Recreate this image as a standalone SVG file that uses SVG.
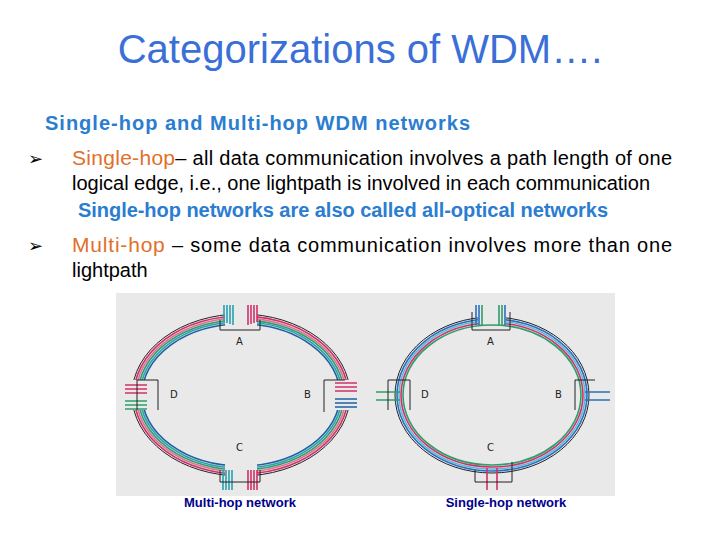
<svg xmlns="http://www.w3.org/2000/svg" width="720" height="540" viewBox="0 0 720 540">
<style>
.t{font-family:"Liberation Sans",Arial,sans-serif}
.b{font-size:20px;fill:#000}
.o{font-size:21px;fill:#e0702a}
.h{font-size:20px;fill:#2a7dd0;font-weight:bold}
.n{font-family:"DejaVu Sans",sans-serif;font-size:10px;fill:#222}
.r{fill:none;stroke-width:1.6}
.k{fill:none;stroke:#222;stroke-width:1}
.cap{font-size:13px;fill:#00008b;font-weight:bold}
</style>
<rect width="720" height="540" fill="#fff"/>
<text class="t" x="360" y="63" text-anchor="middle" font-size="40" fill="#3a6fd8">Categorizations of WDM….</text>
<text class="t h" x="45" y="130" textLength="425">Single-hop and Multi-hop WDM networks</text>
<text x="28" y="165" font-family="DejaVu Sans,sans-serif" font-size="18">➢</text>
<text class="t" x="72" y="165" textLength="600"><tspan class="o">Single-hop</tspan><tspan class="b">– all data communication involves a path length of one</tspan></text>
<text class="t b" x="72" y="190" textLength="578">logical edge, i.e., one lightpath is involved in each communication</text>
<text class="t h" x="78" y="217" textLength="530">Single-hop networks are also called all-optical networks</text>
<text x="28" y="252" font-family="DejaVu Sans,sans-serif" font-size="18">➢</text>
<text class="t" x="72" y="252" textLength="600"><tspan class="o">Multi-hop</tspan><tspan class="b"> – some data communication involves more than one</tspan></text>
<text class="t b" x="72" y="277">lightpath</text>
<rect x="116" y="293" width="499" height="203" fill="#e9e9e9"/>
<g id="multihop">
<ellipse class="k" cx="241" cy="395" rx="109" ry="81"/>
<ellipse class="r" stroke="#d0306a" cx="241" cy="395" rx="107" ry="79"/>
<ellipse class="r" stroke="#e07090" cx="241" cy="395" rx="105" ry="77"/>
<ellipse class="r" stroke="#2e9e6a" cx="241" cy="395" rx="103" ry="75"/>
<ellipse class="r" stroke="#2aa0b0" cx="241" cy="395" rx="101" ry="73"/>
<ellipse class="r" stroke="#2060a0" cx="241" cy="395" rx="99" ry="71"/>
<rect x="225" y="300" width="32" height="30" fill="#e9e9e9"/>
<rect x="225" y="458" width="32" height="34" fill="#e9e9e9"/>
<rect x="124" y="380" width="22" height="30" fill="#e9e9e9"/>
<rect x="336" y="380" width="22" height="30" fill="#e9e9e9"/>
<g class="r"><path d="M224 305V322M227 305V323M230 305V324M233 305V325" stroke="#2aa0b0"/><path d="M248 305V325M251 305V324M254 305V323M257 305V322" stroke="#d0306a"/>
<path d="M223 490V470M226 490V470M229 490V470M232 490V470" stroke="#2aa0b0"/><path d="M248 490V470M251 490V470M254 490V470M257 490V470" stroke="#d0306a"/>
<path d="M125 385H147M125 389H147M125 393H147" stroke="#d0306a"/><path d="M125 401H147M125 405H147M125 409H147" stroke="#2e9e6a"/>
<path d="M335 383H357M335 387H357M335 391H357" stroke="#d0306a"/><path d="M335 399H357M335 403H357M335 407H357" stroke="#2060a0"/></g>
<path class="k" d="M220 320V330H260V320M220 470V482H260V470M137 380H158V410M137 380V410M324 380H345M324 380V412"/>
<text class="n" x="236" y="345">A</text><text class="n" x="170" y="398">D</text><text class="n" x="304" y="398">B</text><text class="n" x="236" y="451">C</text>
</g>
<g id="singlehop">
<ellipse class="k" cx="492" cy="395" rx="97" ry="78"/>
<ellipse class="r" stroke="#2a6fc0" cx="492" cy="395" rx="95" ry="76"/>
<ellipse class="r" stroke="#60b8d8" cx="492" cy="395" rx="93" ry="74"/>
<ellipse class="r" stroke="#d0306a" cx="492" cy="395" rx="91" ry="72"/>
<ellipse class="r" stroke="#2e9e6a" cx="492" cy="395" rx="89" ry="70"/>
<rect x="478" y="300" width="28" height="24" fill="#e9e9e9"/>
<g class="r"><path d="M476 305V325M479 305V325" stroke="#2a6fc0"/><path d="M482 305V325" stroke="#2e9e6a"/><path d="M499 305V325M502 305V325" stroke="#2e9e6a"/><path d="M505 305V325" stroke="#2a6fc0"/>
<path d="M487 490V468M497 490V468" stroke="#d0306a"/>
<path d="M376 392H400M376 400H400" stroke="#2e9e6a"/>
<path d="M585 392H610M585 400H610" stroke="#2a6fc0"/></g>
<path class="k" d="M472 312V330H510V312M475 470V482H512V462M388 380H410V410M388 380V410M575 380H595M575 380V410"/>
<text class="n" x="487" y="345">A</text><text class="n" x="421" y="398">D</text><text class="n" x="555" y="398">B</text><text class="n" x="487" y="451">C</text>
</g>
<text class="t cap" x="240" y="507" text-anchor="middle">Multi-hop network</text>
<text class="t cap" x="506" y="507" text-anchor="middle">Single-hop network</text>
</svg>
